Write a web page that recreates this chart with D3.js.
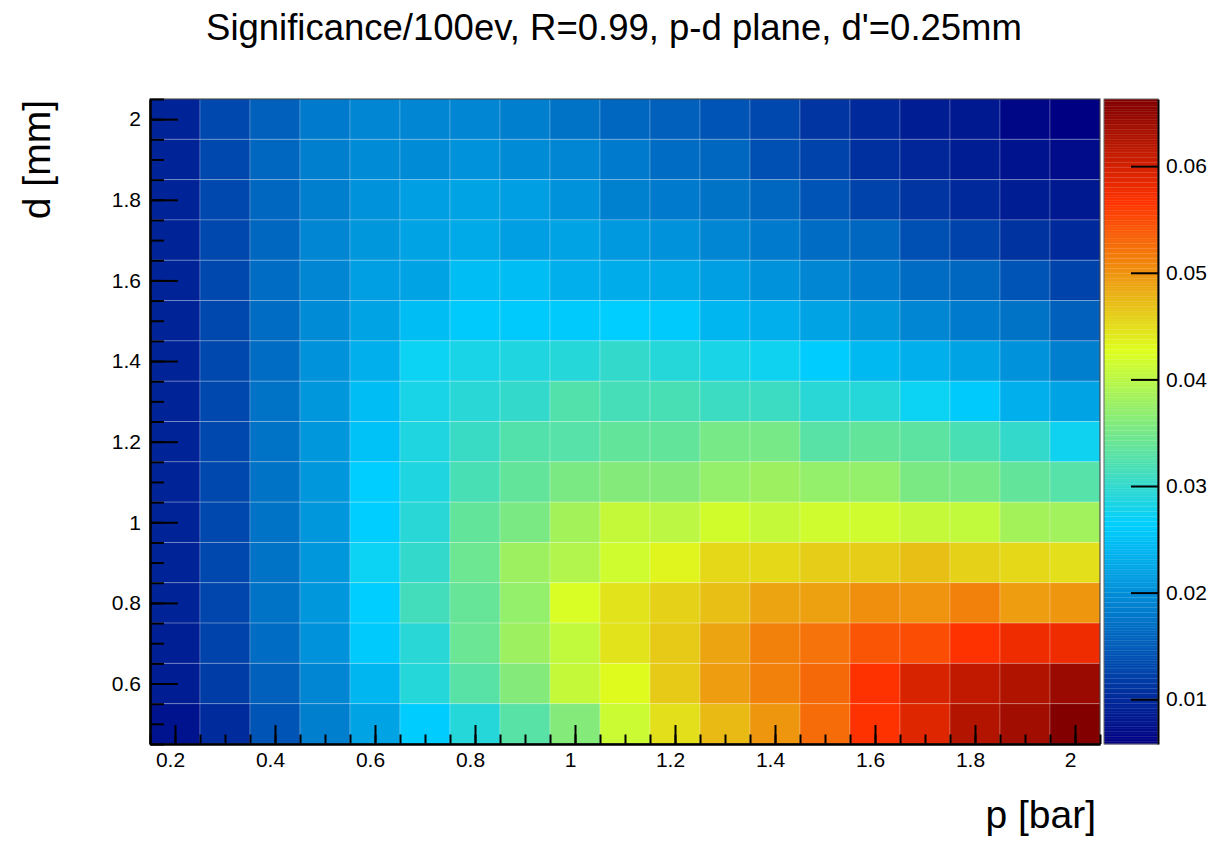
<!DOCTYPE html>
<html>
<head>
<meta charset="utf-8">
<script src="https://cdn.jsdelivr.net/npm/d3@7"></script>
<style>
  body { margin: 0; background: #fff; }
  svg { display: block; font-family: "Liberation Sans", Arial, sans-serif; }
</style>
</head>
<body>
<svg id="svg" width="1214" height="842"></svg>
<script>
// bin centres
const pValues = [0.2, 0.3, 0.4, 0.5, 0.6, 0.7, 0.8, 0.9, 1.0, 1.1, 1.2, 1.3, 1.4, 1.5, 1.6, 1.7, 1.8, 1.9, 2.0]
const dValues = [2.0, 1.9, 1.8, 1.7, 1.6, 1.5, 1.4, 1.3, 1.2, 1.1, 1.0, 0.9, 0.8, 0.7, 0.6, 0.5]

// significance per 100 events, one row per d (top row first), one entry per p
const significance = [
    [.0094, .0131, .0155, .0179, .0191, .0191, .0191, .0185, .0173, .0161, .0155, .0143, .0131, .0112, .0100, .0088, .0082, .0067, .0058],
    [.0094, .0131, .0161, .0185, .0197, .0197, .0203, .0197, .0191, .0179, .0167, .0161, .0137, .0125, .0106, .0097, .0088, .0079, .0070],
    [.0094, .0131, .0161, .0185, .0203, .0215, .0221, .0215, .0203, .0188, .0179, .0173, .0161, .0143, .0125, .0112, .0100, .0088, .0082],
    [.0094, .0131, .0161, .0191, .0209, .0221, .0227, .0215, .0221, .0212, .0203, .0191, .0179, .0167, .0161, .0137, .0125, .0109, .0100],
    [.0094, .0131, .0167, .0191, .0215, .0221, .0246, .0246, .0233, .0230, .0227, .0215, .0203, .0191, .0179, .0167, .0161, .0143, .0125],
    [.0094, .0131, .0167, .0197, .0221, .0246, .0258, .0258, .0258, .0264, .0258, .0240, .0233, .0221, .0209, .0191, .0179, .0173, .0155],
    [.0094, .0131, .0167, .0203, .0233, .0273, .0282, .0288, .0291, .0300, .0291, .0282, .0276, .0261, .0243, .0233, .0221, .0203, .0185],
    [.0094, .0131, .0173, .0209, .0246, .0282, .0294, .0300, .0324, .0315, .0318, .0309, .0309, .0294, .0291, .0273, .0258, .0233, .0221],
    [.0094, .0131, .0173, .0209, .0252, .0288, .0306, .0324, .0327, .0336, .0336, .0351, .0351, .0330, .0336, .0333, .0318, .0300, .0276],
    [.0094, .0131, .0173, .0209, .0264, .0288, .0318, .0336, .0354, .0361, .0361, .0373, .0379, .0373, .0373, .0354, .0351, .0336, .0327],
    [.0094, .0131, .0173, .0209, .0264, .0294, .0336, .0354, .0385, .0409, .0400, .0418, .0409, .0415, .0415, .0409, .0406, .0385, .0382],
    [.0094, .0131, .0173, .0209, .0273, .0300, .0345, .0379, .0394, .0415, .0433, .0454, .0454, .0460, .0460, .0469, .0457, .0454, .0448],
    [.0094, .0128, .0173, .0209, .0264, .0312, .0339, .0373, .0421, .0445, .0457, .0469, .0488, .0491, .0503, .0500, .0512, .0494, .0497],
    [.0091, .0125, .0167, .0203, .0258, .0294, .0342, .0379, .0406, .0445, .0463, .0488, .0512, .0521, .0542, .0548, .0566, .0578, .0578],
    [.0088, .0119, .0155, .0191, .0240, .0291, .0330, .0361, .0409, .0430, .0463, .0494, .0512, .0530, .0566, .0596, .0615, .0627, .0642],
    [.0079, .0103, .0143, .0185, .0221, .0261, .0291, .0330, .0361, .0412, .0448, .0475, .0497, .0527, .0566, .0590, .0624, .0639, .0663]
]

const xTicks = [0.2, 0.4, 0.6, 0.8, 1, 1.2, 1.4, 1.6, 1.8, 2]
const yTicks = [0.6, 0.8, 1, 1.2, 1.4, 1.6, 1.8, 2]
const zTicks = [0.01, 0.02, 0.03, 0.04, 0.05, 0.06]
const xMinor = d3.range(0.15, 2.06, 0.05)
const yMinor = d3.range(0.45, 2.06, 0.05)

// rainbow palette stops
const palStops = [0.00, 0.34, 0.61, 0.84, 1.00]
const palColors = ["rgb(0,0,130)", "rgb(0,207,255)", "rgb(222,255,31)", "rgb(255,51,0)", "rgb(130,0,0)"]
const nColors = 255

window.addEventListener('load', function() {

    const svg = d3.select("#svg")

    const left = 150, right = 1100, top = 99, bottom = 744
    const binW = 0.1, binH = 0.1

    const x = d3.scaleLinear().domain([0.15, 2.05]).range([left, right])
    const y = d3.scaleLinear().domain([0.45, 2.05]).range([bottom, top])

    const cells = []
    dValues.forEach((d, i) => pValues.forEach((p, j) => cells.push({p: p, d: d, v: significance[i][j]})))

    const zExt = d3.extent(cells, c => c.v)
    const palette = d3.scaleLinear().domain(palStops).range(palColors).interpolate(d3.interpolateRgb)
    const level = v => Math.min(nColors - 1, Math.floor((v - zExt[0]) / (zExt[1] - zExt[0]) * nColors))
    const color = v => palette(level(v) / (nColors - 1))

    svg.append("g").selectAll("rect")
        .data(cells)
        .enter()
        .append("rect")
        .attr("x", c => x(c.p - binW / 2))
        .attr("y", c => y(c.d + binH / 2))
        .attr("width", c => x(c.p + binW / 2) - x(c.p - binW / 2))
        .attr("height", c => y(c.d - binH / 2) - y(c.d + binH / 2))
        .attr("fill", c => color(c.v))
        .attr("stroke", "rgba(255,255,255,0.22)")
        .attr("stroke-width", 1)

    // frame
    svg.append("rect")
        .attr("x", left).attr("y", top)
        .attr("width", right - left).attr("height", bottom - top)
        .attr("fill", "none").attr("stroke", "#333").attr("stroke-width", 1)

    const fmt = v => String(v)

    // x axis (ticks point into the frame), minor ticks in their own group
    svg.append("g").attr("transform", `translate(0,${bottom})`)
        .call(d3.axisBottom(x).tickValues(xMinor).tickSizeInner(-9.5).tickSizeOuter(0).tickFormat(""))
    const xAxis = svg.append("g").attr("transform", `translate(0,${bottom})`)
        .call(d3.axisBottom(x).tickValues(xTicks).tickSizeInner(-19).tickSizeOuter(0).tickPadding(8).tickFormat(fmt))
    xAxis.selectAll("text").attr("font-size", 21).attr("dx", -5).attr("fill", "#000")

    svg.append("g").attr("transform", `translate(${left},0)`)
        .call(d3.axisLeft(y).tickValues(yMinor).tickSizeInner(-14).tickSizeOuter(0).tickFormat(""))
    const yAxis = svg.append("g").attr("transform", `translate(${left},0)`)
        .call(d3.axisLeft(y).tickValues(yTicks).tickSizeInner(-28).tickSizeOuter(0).tickPadding(9).tickFormat(fmt))
    yAxis.selectAll("text").attr("font-size", 21).attr("fill", "#000")

    svg.selectAll(".tick line").attr("stroke", "#000").attr("stroke-width", 2)
    svg.selectAll(".domain").attr("stroke", "#000").attr("stroke-width", 2)

    // colour bar
    const zLeft = 1104, zRight = 1158
    const z = d3.scaleLinear().domain(zExt).range([bottom, top])
    const bands = d3.range(nColors)
    const bandV = k => zExt[0] + k / nColors * (zExt[1] - zExt[0])
    svg.append("g").selectAll("rect")
        .data(bands)
        .enter()
        .append("rect")
        .attr("x", zLeft)
        .attr("width", zRight - zLeft)
        .attr("y", k => z(bandV(k + 1)))
        .attr("height", k => z(bandV(k)) - z(bandV(k + 1)) + 0.3)
        .attr("fill", k => palette(k / (nColors - 1)))
    svg.append("g").selectAll("line")
        .data(d3.range(0, nColors, 2))
        .enter()
        .append("line")
        .attr("x1", zLeft).attr("x2", zRight)
        .attr("y1", k => z(bandV(k))).attr("y2", k => z(bandV(k)))
        .attr("stroke", "rgba(255,255,255,0.12)").attr("stroke-width", 0.6)
    svg.append("rect")
        .attr("x", zLeft).attr("y", top)
        .attr("width", zRight - zLeft).attr("height", bottom - top)
        .attr("fill", "none").attr("stroke", "#666").attr("stroke-width", 1)

    const zAxis = svg.append("g").attr("transform", `translate(${zRight},0)`)
        .call(d3.axisRight(z).tickValues(zTicks).tickSizeInner(-27).tickSizeOuter(0).tickPadding(8).tickFormat(fmt))
    zAxis.selectAll("text").attr("font-size", 21).attr("fill", "#000")
    zAxis.selectAll(".tick line").attr("stroke", "#000").attr("stroke-width", 2)
    zAxis.select(".domain").attr("stroke", "#000").attr("stroke-width", 2)

    // titles
    svg.append("text")
        .attr("x", 614).attr("y", 40)
        .attr("text-anchor", "middle")
        .attr("font-size", 36.5)
        .text("Significance/100ev, R=0.99, p-d plane, d'=0.25mm")

    svg.append("text")
        .attr("x", right - 4).attr("y", 828)
        .attr("text-anchor", "end")
        .attr("font-size", 39)
        .text("p [bar]")

    svg.append("text")
        .attr("transform", `translate(50,${top + 1}) rotate(-90)`)
        .attr("text-anchor", "end")
        .attr("font-size", 39)
        .text("d [mm]")
})
</script>
</body>
</html>
